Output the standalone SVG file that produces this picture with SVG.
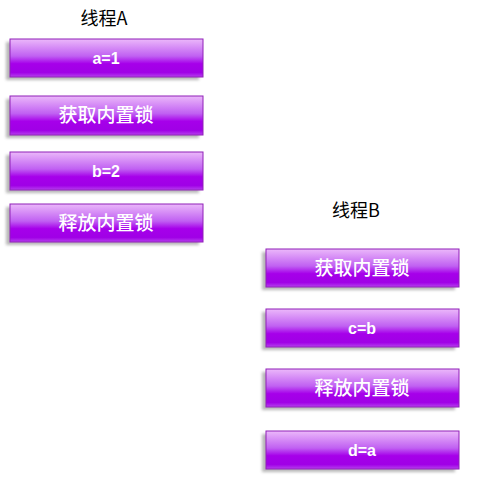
<svg xmlns="http://www.w3.org/2000/svg" width="481" height="483" viewBox="0 0 481 483">
<defs>
<linearGradient id="g" x1="0" y1="0" x2="0" y2="1">
<stop offset="0" stop-color="#ebb8fa"/>
<stop offset="0.45" stop-color="#c060f2"/>
<stop offset="0.65" stop-color="#a600ea"/>
<stop offset="0.88" stop-color="#a000e6"/>
<stop offset="1" stop-color="#b640ee"/>
</linearGradient>
<filter id="sh" x="-10%" y="-30%" width="120%" height="160%">
<feGaussianBlur stdDeviation="1.5"/>
</filter>
</defs>
<style>
.box{fill:url(#g);stroke:#9020b8;stroke-width:1}
.shadow{fill:#9a9a9a;opacity:0.7;filter:url(#sh)}
.lbl{font-family:"Noto Sans CJK SC","Liberation Sans",sans-serif;font-size:19px;font-weight:500;fill:#ffffff;text-anchor:middle}
.asc{font-family:"Liberation Sans","Noto Sans CJK SC",sans-serif;font-size:16px;font-weight:bold;fill:#ffffff;text-anchor:middle}
.ttl{font-family:"Noto Sans CJK SC","Liberation Sans",sans-serif;font-size:18px;fill:#000000;text-anchor:middle}
</style>
<rect width="481" height="483" fill="#ffffff"/>
<text class="ttl" x="104" y="25">线程A</text>
<text class="ttl" x="356" y="217">线程B</text>
<g id="a1"><rect class="shadow" x="6" y="42" width="193" height="38"/><rect class="box" x="10" y="39" width="193" height="38"/><text class="asc" x="106" y="64">a=1</text></g>
<g id="lockA"><rect class="shadow" x="6" y="99" width="193" height="39"/><rect class="box" x="10" y="96" width="193" height="39"/><text class="lbl" x="106" y="122">获取内置锁</text></g>
<g id="b2"><rect class="shadow" x="6" y="155" width="193" height="38"/><rect class="box" x="10" y="152" width="193" height="38"/><text class="asc" x="106" y="177">b=2</text></g>
<g id="unlockA"><rect class="shadow" x="6" y="207" width="193" height="38"/><rect class="box" x="10" y="204" width="193" height="38"/><text class="lbl" x="106" y="230">释放内置锁</text></g>
<g id="lockB"><rect class="shadow" x="262" y="252" width="193" height="38"/><rect class="box" x="266" y="249" width="193" height="38"/><text class="lbl" x="362" y="275">获取内置锁</text></g>
<g id="cb"><rect class="shadow" x="262" y="312" width="193" height="38"/><rect class="box" x="266" y="309" width="193" height="38"/><text class="asc" x="362" y="334">c=b</text></g>
<g id="unlockB"><rect class="shadow" x="262" y="372" width="193" height="38"/><rect class="box" x="266" y="369" width="193" height="38"/><text class="lbl" x="362" y="395">释放内置锁</text></g>
<g id="da"><rect class="shadow" x="262" y="434" width="193" height="38"/><rect class="box" x="266" y="431" width="193" height="38"/><text class="asc" x="362" y="456">d=a</text></g>
<g id="connectors"></g>
</svg>
